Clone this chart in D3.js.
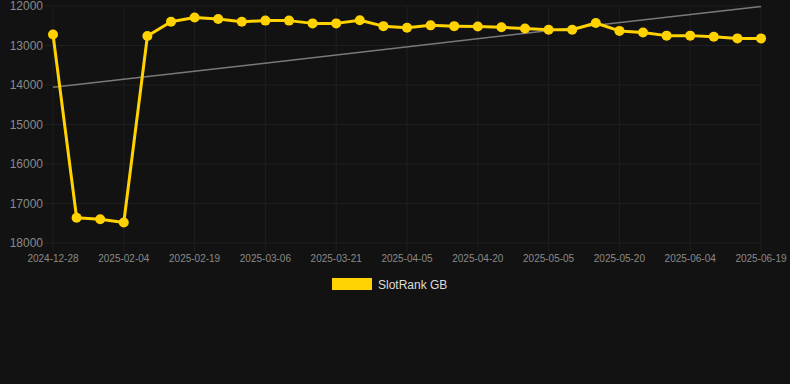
<!DOCTYPE html>
<html><head><meta charset="utf-8">
<script src="https://cdn.jsdelivr.net/npm/d3@7"></script>
<style>
html,body{margin:0;padding:0;background:#121212;}
svg{display:block;font-family:Arial, "Liberation Sans", sans-serif;}
</style></head>
<body>
<svg id="chart" width="790" height="384"></svg>
<script>
const categories = ["2024-12-28","2025-01-10","2025-01-22","2025-02-04","2025-02-09","2025-02-14","2025-02-19","2025-02-24","2025-03-01","2025-03-06","2025-03-11","2025-03-16","2025-03-21","2025-03-26","2025-03-31","2025-04-05","2025-04-10","2025-04-15","2025-04-20","2025-04-25","2025-04-30","2025-05-05","2025-05-10","2025-05-15","2025-05-20","2025-05-25","2025-05-30","2025-06-04","2025-06-09","2025-06-14","2025-06-19"];
const rankValues = [12720,17360,17400,17480,12760,12400,12290,12330,12400,12370,12370,12440,12440,12360,12510,12550,12490,12510,12520,12540,12570,12600,12600,12430,12630,12670,12750,12750,12780,12820,12820];
const trendValues = [14060,12010];
const yTicks = [12000,13000,14000,15000,16000,17000,18000];
const seriesName = "SlotRank GB";

const svg = d3.select("#chart");
const pLeft = 53, pRight = 761, pTop = 6, pBottom = 243;
const x = d3.scalePoint().domain(categories).range([pLeft, pRight]);
const y = d3.scaleLinear().domain([12000, 18000]).range([pTop, pBottom]);
const gridColor = "#1f1f1f";
const labelIdx = categories.map((c,i)=>i).filter(i => i % 3 === 0);

// horizontal grid
svg.append("g").selectAll("line").data(yTicks).join("line")
  .attr("x1", pLeft - 8).attr("x2", pRight)
  .attr("y1", d => y(d)).attr("y2", d => y(d))
  .attr("stroke", gridColor).attr("stroke-width", 1);
// vertical grid
svg.append("g").selectAll("line").data(labelIdx).join("line")
  .attr("x1", i => x(categories[i])).attr("x2", i => x(categories[i]))
  .attr("y1", pTop).attr("y2", pBottom + 8)
  .attr("stroke", gridColor).attr("stroke-width", 1);

// y labels
svg.append("g").selectAll("text").data(yTicks).join("text")
  .attr("x", 43).attr("y", d => y(d)).attr("dy", "0.35em")
  .attr("text-anchor", "end").attr("fill", "#8a8a8a").attr("font-size", 12)
  .text(d => d);
// x labels
svg.append("g").selectAll("text").data(labelIdx).join("text")
  .attr("x", i => x(categories[i])).attr("y", 262)
  .attr("text-anchor", "middle").attr("fill", "#8a8a8a").attr("font-size", 10)
  .text(i => categories[i]);

// trend line
svg.append("line")
  .attr("x1", x(categories[0])).attr("y1", y(trendValues[0]))
  .attr("x2", x(categories[categories.length-1])).attr("y2", y(trendValues[1]))
  .attr("stroke", "#7a7a7a").attr("stroke-width", 1.5);

// series line
const line = d3.line().x((d,i)=>x(categories[i])).y(d=>y(d));
svg.append("path").datum(rankValues).attr("d", line)
  .attr("fill", "none").attr("stroke", "#FFD200").attr("stroke-width", 3)
  .attr("stroke-linejoin", "round");
svg.append("g").selectAll("circle").data(rankValues).join("circle")
  .attr("cx", (d,i)=>x(categories[i])).attr("cy", d=>y(d)).attr("r", 5)
  .attr("fill", "#FFD200");

// legend
svg.append("rect").attr("x", 332).attr("y", 278).attr("width", 40).attr("height", 12).attr("fill", "#FFD200");
svg.append("text").attr("x", 378).attr("y", 284.5).attr("dy", "0.35em")
  .attr("fill", "#dddddd").attr("font-size", 12).text(seriesName);
</script>
</body></html>
